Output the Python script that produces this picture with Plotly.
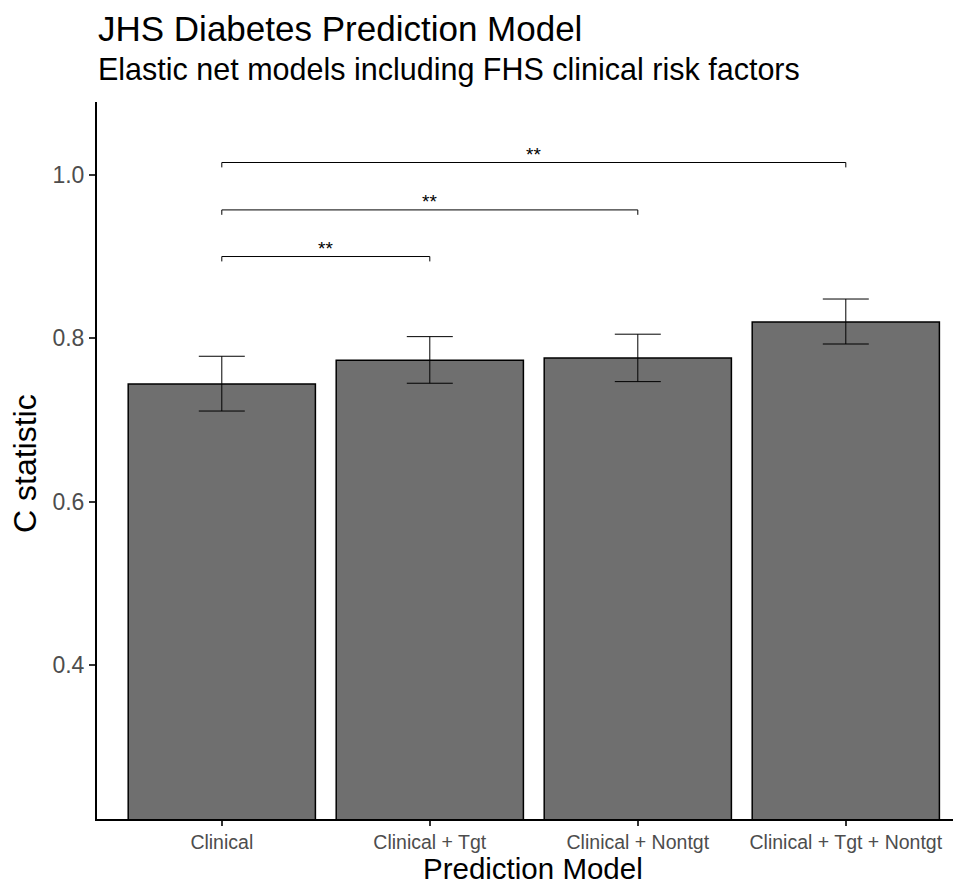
import plotly.graph_objects as go

categories = ["Clinical", "Clinical + Tgt", "Clinical + Nontgt", "Clinical + Tgt + Nontgt"]
c_stat = [0.744, 0.773, 0.776, 0.820]
ci_low = [0.711, 0.745, 0.747, 0.793]
ci_high = [0.778, 0.802, 0.805, 0.848]

# significance brackets: (start category, end category, height, label)
bracket_start = ["Clinical", "Clinical", "Clinical"]
bracket_end = ["Clinical + Tgt", "Clinical + Nontgt", "Clinical + Tgt + Nontgt"]
bracket_y = [0.900, 0.957, 1.015]
bracket_label = ["**", "**", "**"]
tick_drop = 0.006

FONT = "Liberation Sans, Arial, sans-serif"
W, H = 953, 876
L, R, T, B = 89, 0, 94, 65
ph = H - T - B
pw = W - L - R

fig = go.Figure()
fig.add_trace(go.Bar(
    x=categories, y=c_stat, width=0.9,
    marker=dict(color="#6f6f6f", line=dict(color="black", width=1.5)),
    error_y=dict(type="data", symmetric=False,
                 array=[h - v for h, v in zip(ci_high, c_stat)],
                 arrayminus=[v - l for v, l in zip(c_stat, ci_low)],
                 color="black", thickness=1, width=23),
    showlegend=False, hoverinfo="skip"))

idx = {c: i for i, c in enumerate(categories)}
for s, e, y, lab in zip(bracket_start, bracket_end, bracket_y, bracket_label):
    fig.add_trace(go.Scatter(
        x=[s, s, e, e], y=[y - tick_drop, y, y, y - tick_drop],
        mode="lines", line=dict(color="black", width=1),
        showlegend=False, hoverinfo="skip"))
    fig.add_annotation(x=(idx[s] + idx[e]) / 2, y=y, xref="x", yref="y",
                       text=lab, showarrow=False, yanchor="bottom", yshift=-4,
                       font=dict(size=19, color="black", family=FONT))

def py(yfig):
    return 1 + (T - yfig) / ph

fig.add_annotation(xref="paper", yref="paper", x=0, y=py(20),
                   xanchor="left", yanchor="middle", showarrow=False,
                   text="JHS Diabetes Prediction Model",
                   font=dict(size=35, color="black", family=FONT), xshift=-1)
fig.add_annotation(xref="paper", yref="paper", x=0, y=py(61),
                   xanchor="left", yanchor="middle", showarrow=False,
                   text="Elastic net models including FHS clinical risk factors",
                   font=dict(size=30.5, color="black", family=FONT), xshift=-1)
fig.add_annotation(xref="paper", yref="paper", x=436 / pw, y=-(860 - (H - B)) / ph,
                   xanchor="center", yanchor="middle", showarrow=False,
                   text="Prediction Model",
                   font=dict(size=29.5, color="black", family=FONT))
fig.add_annotation(xref="paper", yref="paper", x=(17 - L) / pw, y=(H - B - 456) / ph,
                   xanchor="center", yanchor="middle", showarrow=False, textangle=-90,
                   text="C statistic",
                   font=dict(size=32, color="black", family=FONT))

fig.update_layout(
    width=W, height=H, margin=dict(l=L, r=R, t=T, b=B),
    paper_bgcolor="white", plot_bgcolor="white",
    font=dict(family=FONT),
    xaxis=dict(type="category", range=[-0.6, -0.6 + pw / 208], showgrid=False, zeroline=False,
               showline=True, linecolor="black", linewidth=2,
               ticks="outside", ticklen=5, tickcolor="#333333", tickwidth=1.5,
               tickfont=dict(size=19.5, color="#4d4d4d")),
    yaxis=dict(range=[0.212, 1.089], showgrid=False, zeroline=False,
               showline=True, linecolor="black", linewidth=2,
               tickvals=[0.4, 0.6, 0.8, 1.0], ticktext=["0.4", "0.6", "0.8", "1.0"],
               ticks="outside", ticklen=6, tickcolor="#333333", tickwidth=1.5,
               tickfont=dict(size=23, color="#4d4d4d")),
)
fig.write_html("out.html")
